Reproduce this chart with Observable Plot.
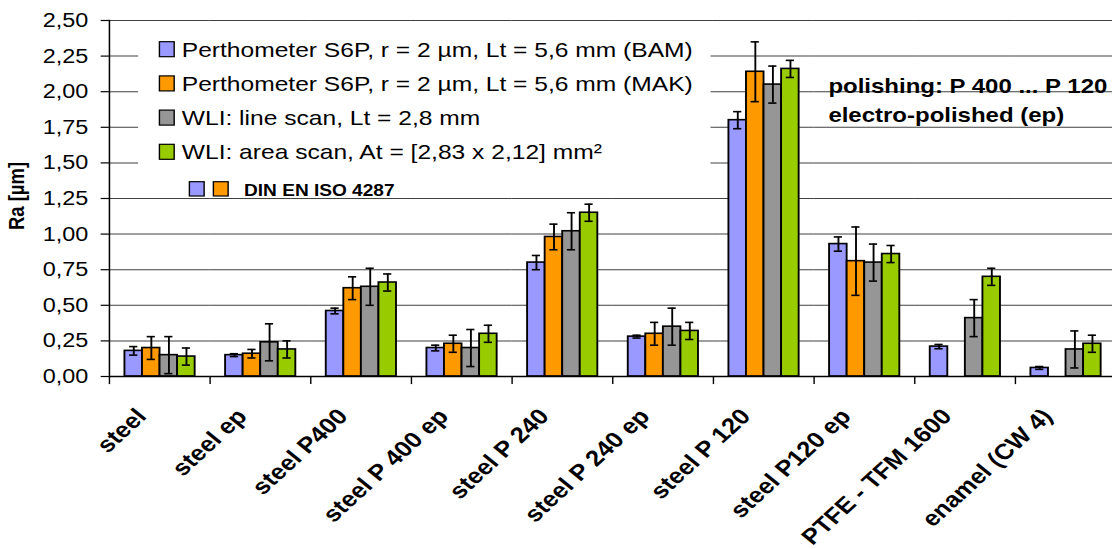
<!DOCTYPE html>
<html><head><meta charset="utf-8">
<script src="https://cdn.jsdelivr.net/npm/d3@7"></script>
<script src="https://cdn.jsdelivr.net/npm/@observablehq/plot@0.6"></script>
<style>
html,body{margin:0;padding:0;background:#fff;overflow:hidden;}
#wrap{position:absolute;left:0;top:0;width:950px;height:549px;transform-origin:0 0;transform:scaleX(1.170526);font-family:"Liberation Sans",Arial,sans-serif;}
#wrap svg{position:absolute;left:0;top:0;}
</style></head><body><div id="wrap"></div>
<script>
const categories = ["steel","steel ep","steel P400","steel P 400 ep","steel P 240","steel P 240 ep","steel P 120","steel P120 ep","PTFE - TFM 1600","enamel (CW 4)"];
const seriesNames = [
  "Perthometer S6P, r = 2 µm, Lt = 5,6 mm (BAM)",
  "Perthometer S6P, r = 2 µm, Lt = 5,6 mm (MAK)",
  "WLI: line scan, Lt = 2,8 mm",
  "WLI: area scan, At = [2,83 x 2,12] mm²"
];
const colors = ["#9999FF","#FF9900","#969696","#99CC00"];
const bam      = [0.18,0.15,0.46,0.20,0.80,0.28,1.80,0.93,0.21,0.06];
const bamErr   = [0.03,0.01,0.02,0.02,0.05,0.01,0.06,0.05,0.015,0.01];
const mak      = [0.20,0.16,0.62,0.23,0.98,0.30,2.14,0.81,null,null];
const makErr   = [0.08,0.03,0.08,0.06,0.09,0.08,0.21,0.24,null,null];
const wliLine    = [0.15,0.24,0.63,0.20,1.02,0.35,2.05,0.80,0.41,0.19];
const wliLineErr = [0.13,0.13,0.13,0.13,0.13,0.13,0.13,0.13,0.13,0.13];
const wliArea    = [0.14,0.19,0.66,0.30,1.15,0.32,2.16,0.86,0.70,0.23];
const wliAreaErr = [0.06,0.06,0.06,0.06,0.06,0.06,0.06,0.06,0.06,0.06];
const yTicks = [0,0.25,0.5,0.75,1,1.25,1.5,1.75,2,2.25,2.5];
const normLabel = "DIN EN ISO 4287";
const notes = ["polishing: P 400 ... P 120","electro-polished (ep)"];
const yLabel = "Ra [µm]";

const values = [bam, mak, wliLine, wliArea];
const errs = [bamErr, makErr, wliLineErr, wliAreaErr];
const rows = [];
values.forEach((vals, s) => vals.forEach((v, i) => {
  if (v != null) rows.push({cat: categories[i], series: seriesNames[s], value: v, err: errs[s][i]});
}));
const fmt = d => d.toFixed(2).replace(".", ",");

const W = 950, H = 549;
const chart = Plot.plot({
  width: W, height: H,
  marginTop: 20, marginBottom: 173, marginLeft: 89.7, marginRight: -6.9,
  style: {fontFamily: "'Liberation Sans', Arial, sans-serif", background: "transparent", color: "#000"},
  x: {domain: seriesNames, paddingInner: 0, paddingOuter: 0.73, axis: null},
  fx: {domain: categories, padding: 0},
  y: {domain: [0, 2.5]},
  color: {domain: seriesNames, range: colors},
  marks: [
    Plot.gridY(yTicks, {stroke: "#000", strokeOpacity: 0.75, strokeWidth: 1}),
    Plot.axisY(yTicks, {tickFormat: fmt, fontSize: 20, tickSize: 7, tickPadding: 11, label: null, strokeWidth: 1.2}),
    Plot.barY(rows, {fx: "cat", x: "series", y: "value", fill: "series", stroke: "#000", strokeWidth: 1.6}),
    Plot.ruleX(rows, {fx: "cat", x: "series", y1: d => d.value - d.err, y2: d => d.value + d.err, stroke: "#000", strokeWidth: 1.6}),
    Plot.tickY(rows, {fx: "cat", x: "series", y: d => d.value - d.err, inset: 4, stroke: "#000", strokeWidth: 1.6}),
    Plot.tickY(rows, {fx: "cat", x: "series", y: d => d.value + d.err, inset: 4, stroke: "#000", strokeWidth: 1.6}),
    Plot.ruleY([0], {stroke: "#000", strokeWidth: 1.3}),
    Plot.frame({anchor: "left", facetAnchor: "left", stroke: "#000", strokeWidth: 1.3}),
    Plot.frame({anchor: "left", insetTop: 356, insetBottom: -7, stroke: "#000", strokeWidth: 1.2}),
    Plot.axisFx({anchor: "bottom", tickSize: 0, tickRotate: -47, fontSize: 22, fontWeight: "bold", tickPadding: 8, dx: -15.5, dy: 28, label: null})
  ]
});
const wrap = document.getElementById("wrap");
wrap.appendChild(chart);

// overlay: legend, annotations, y label
const ov = d3.create("svg").attr("width", W).attr("height", H)
  .style("font-family", "'Liberation Sans', Arial, sans-serif");
ov.append("rect").attr("x", 118).attr("y", 25).attr("width", 489).attr("height", 160).attr("fill", "#fff");
seriesNames.forEach((name, i) => {
  ov.append("rect").attr("x", 136.2).attr("y", 41.7 + i * 34.2).attr("width", 12.6).attr("height", 15)
    .attr("fill", colors[i]).attr("stroke", "#000").attr("stroke-width", 1.2);
  ov.append("text").attr("x", 155.3).attr("y", 56.7 + i * 34.2).attr("font-size", 21).text(name);
});
[0, 1].forEach(i => {
  ov.append("rect").attr("x", 161.8 + i * 20.5).attr("y", 181.7).attr("width", 12.6).attr("height", 14.3)
    .attr("fill", colors[i]).attr("stroke", "#000").attr("stroke-width", 1.2);
});
ov.append("text").attr("x", 208.5).attr("y", 195.7).attr("font-size", 16.3).attr("font-weight", "bold").text(normLabel);
notes.forEach((t, i) => {
  ov.append("text").attr("x", 707.7).attr("y", 93.3 + i * 28.5).attr("font-size", 20.5).attr("font-weight", "bold").text(t);
});
ov.append("text").attr("transform", "translate(14.3,196) rotate(-90)").attr("text-anchor", "middle")
  .attr("dominant-baseline", "central").attr("font-size", 18.5).attr("font-weight", "bold").text(yLabel);
wrap.appendChild(ov.node());
</script></body></html>
